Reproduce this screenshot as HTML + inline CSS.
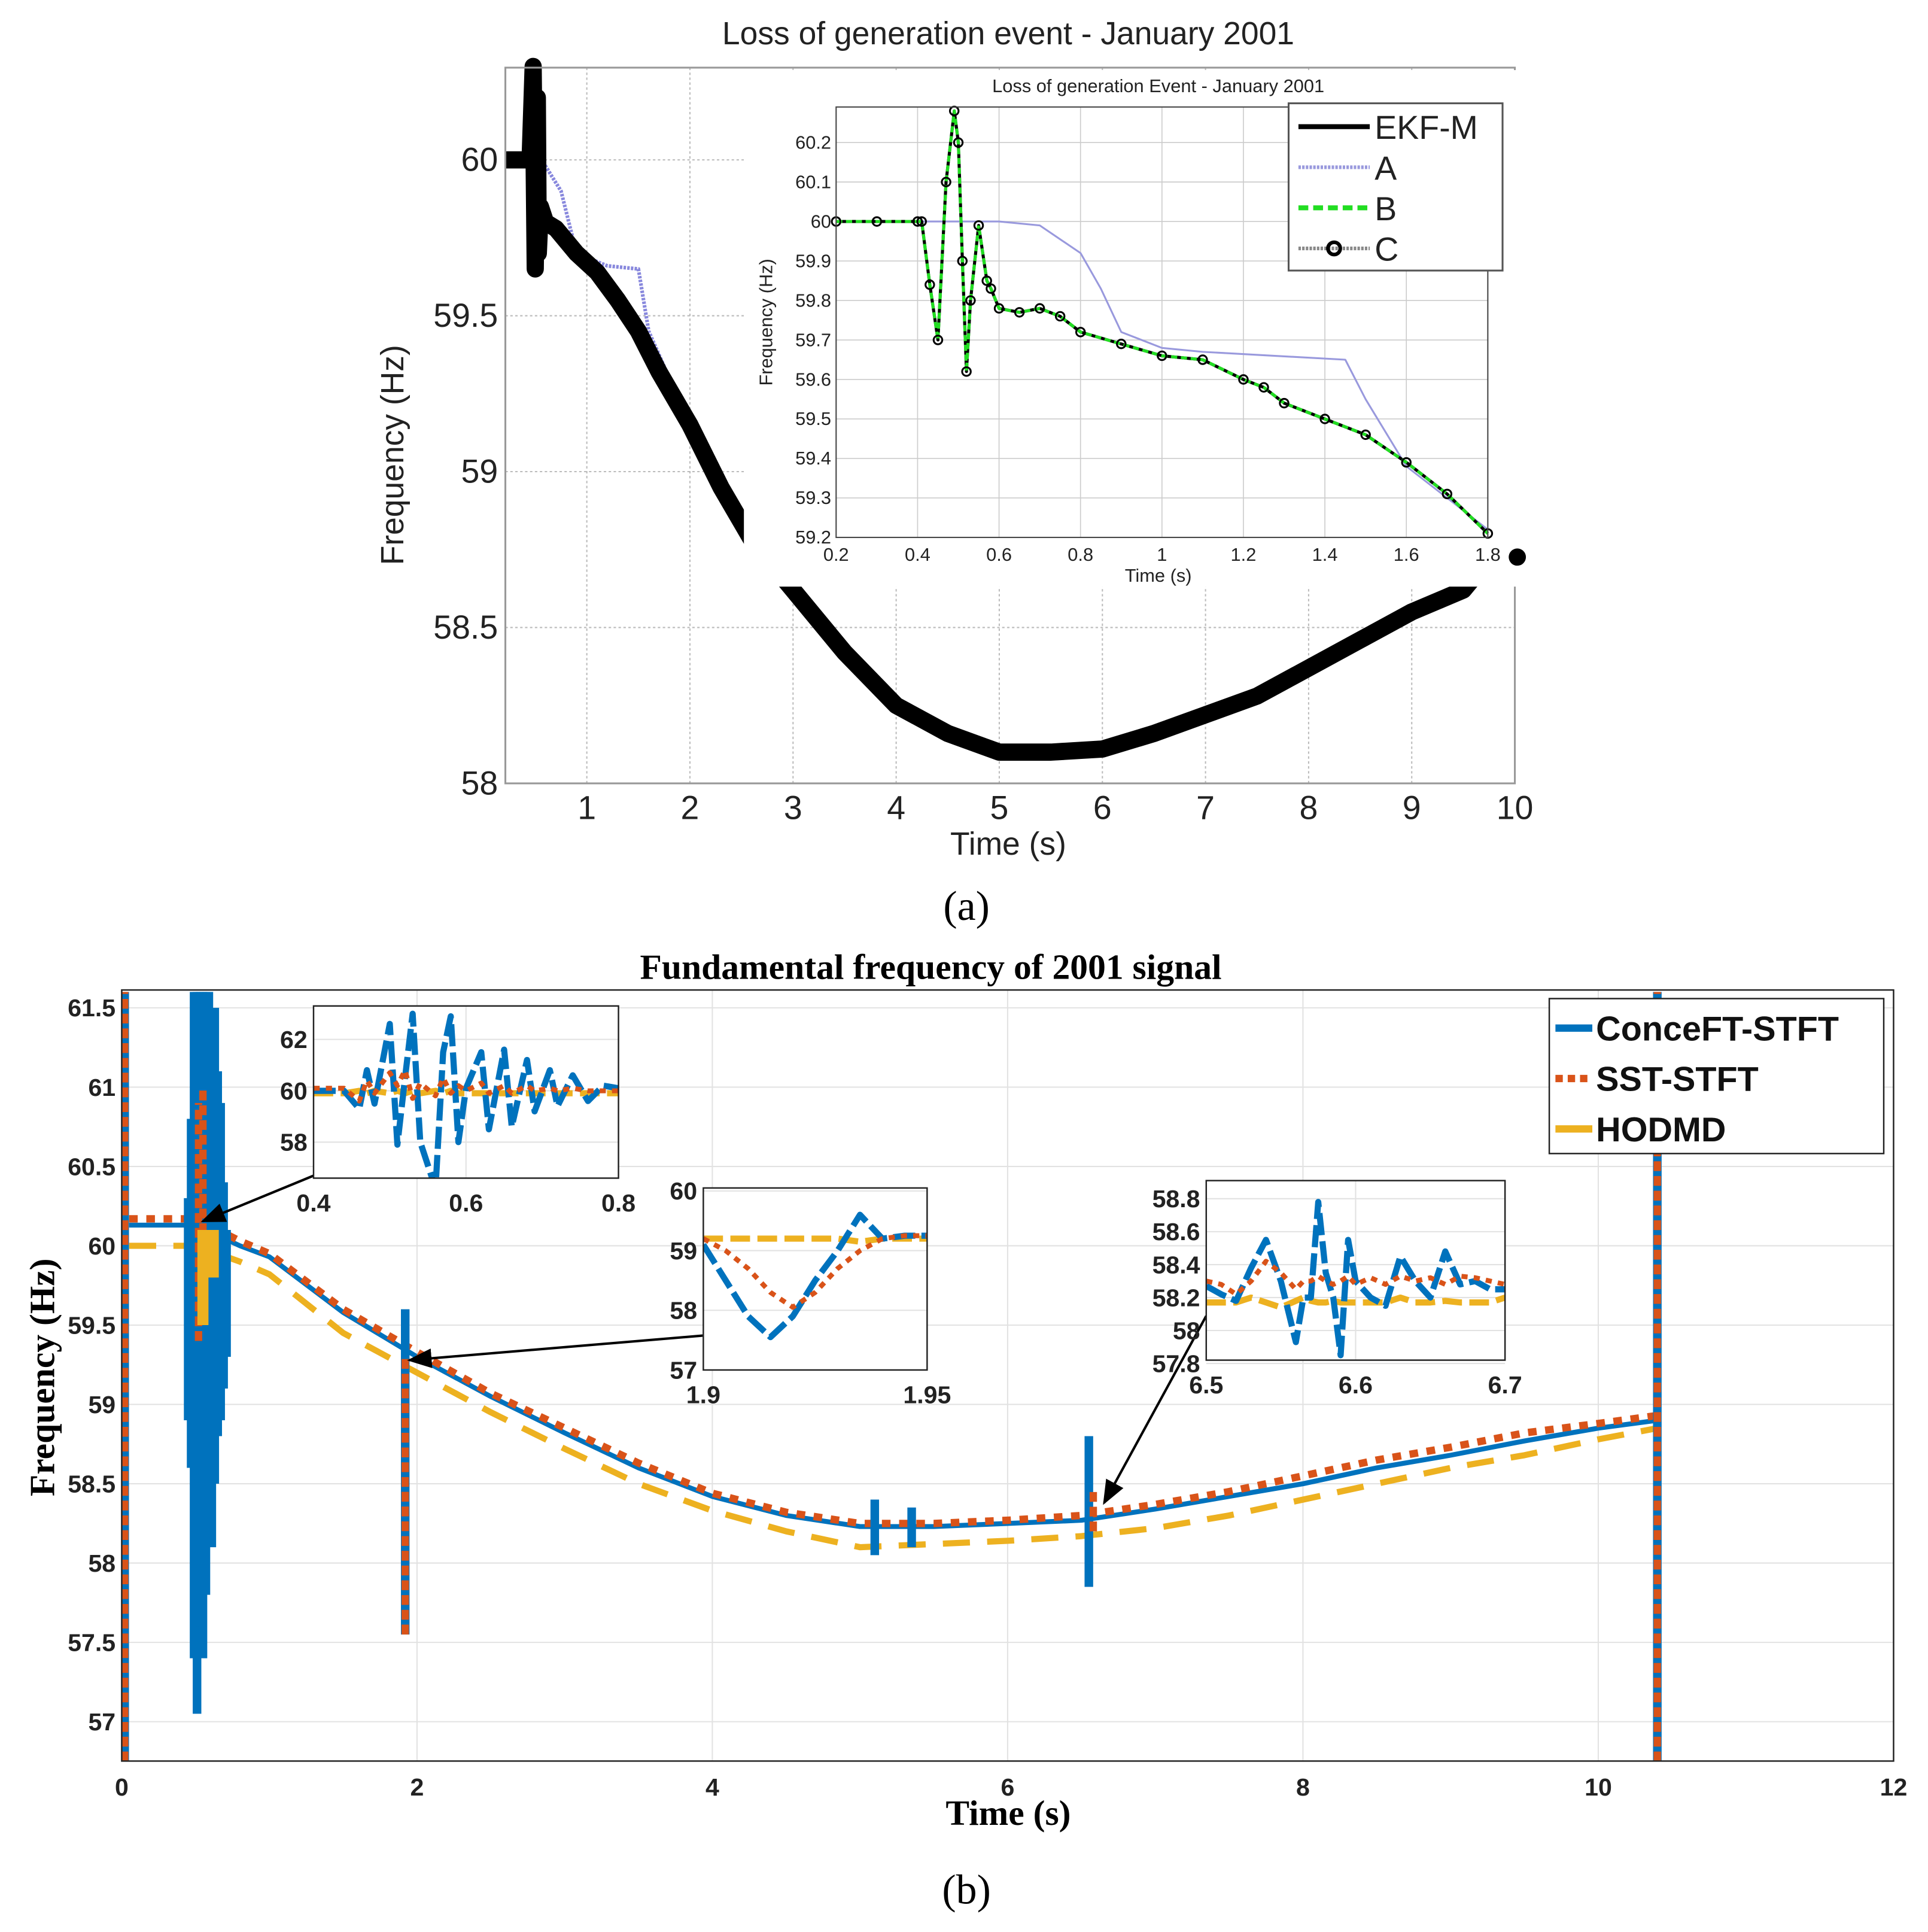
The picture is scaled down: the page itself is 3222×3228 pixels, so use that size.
<!DOCTYPE html>
<html><head><meta charset="utf-8"><style>
html,body{margin:0;padding:0;background:#fff;}
svg{display:block;}
.sans{font-family:"Liberation Sans",sans-serif;}
.serif{font-family:"Liberation Serif",serif;}
</style></head><body>
<svg id="fig" width="3222" height="3228" viewBox="0 0 1568 1571" preserveAspectRatio="none" xmlns="http://www.w3.org/2000/svg">
<rect width="1568" height="1571" fill="#fff"/>
<g id="top"></g>
<g id="bot"></g>
</svg>
<script>
// ===== Panel (a) data =====
const aMainT = [0.21,0.3,0.4,0.45,0.48,0.5,0.52,0.53,0.55,0.6,0.7,0.8,0.9,1.0,1.1,1.3,1.5,1.7,2.0,2.3,2.6,3.0,3.5,4.0,4.5,5.0,5.5,6.0,6.5,7.0,7.5,8.0,8.5,9.0,9.5,9.75];
const aMainF = [60,60,60,60,60.3,59.65,60.2,59.7,59.85,59.8,59.78,59.74,59.7,59.67,59.64,59.55,59.45,59.32,59.15,58.95,58.78,58.62,58.42,58.25,58.16,58.1,58.1,58.11,58.16,58.22,58.28,58.37,58.46,58.55,58.62,58.72];
const aAT = [0.21,0.45,0.6,0.75,0.9,1.2,1.5,1.6,1.8,2.0];
const aAF = [60,60,59.98,59.9,59.7,59.66,59.65,59.45,59.3,59.15];
const aXTicks = [1,2,3,4,5,6,7,8,9,10];
const aYTicks = [58,58.5,59,59.5,60];
// inset (a)
const iaT = [0.2,0.3,0.4,0.41,0.43,0.45,0.47,0.49,0.5,0.51,0.52,0.53,0.55,0.57,0.58,0.6,0.65,0.7,0.75,0.8,0.9,1.0,1.1,1.2,1.25,1.3,1.4,1.5,1.6,1.7,1.8];
const iaF = [60,60,60,60,59.84,59.7,60.1,60.28,60.2,59.9,59.62,59.8,59.99,59.85,59.83,59.78,59.77,59.78,59.76,59.72,59.69,59.66,59.65,59.6,59.58,59.54,59.5,59.46,59.39,59.31,59.21];
const iaAT = [0.2,0.4,0.5,0.6,0.7,0.8,0.85,0.9,1.0,1.1,1.45,1.5,1.6,1.7,1.8];
const iaAF = [60,60,60,60,59.99,59.92,59.83,59.72,59.68,59.67,59.65,59.55,59.38,59.3,59.22];
const iaXTicks = [0.2,0.4,0.6,0.8,1,1.2,1.4,1.6,1.8];
const iaYTicks = [59.2,59.3,59.4,59.5,59.6,59.7,59.8,59.9,60,60.1,60.2];
// ===== Panel (b) data =====
const bT = [0.05,0.5,0.8,1.0,1.5,2.0,2.5,3.0,3.5,4.0,4.5,5.0,5.5,6.0,6.5,7.0,7.5,8.0,8.5,9.0,9.5,10.0,10.4];
const bBlue = [60.13,60.13,60.0,59.93,59.58,59.3,59.05,58.82,58.6,58.42,58.3,58.23,58.23,58.25,58.27,58.34,58.42,58.5,58.6,58.68,58.77,58.85,58.9];
const bOrange = [60.17,60.17,60.03,59.95,59.6,59.33,59.07,58.85,58.63,58.44,58.32,58.25,58.25,58.27,58.3,58.37,58.45,58.55,58.65,58.73,58.82,58.88,58.93];
const bYellow = [60.0,60.0,59.9,59.82,59.45,59.2,58.95,58.72,58.5,58.33,58.2,58.1,58.12,58.14,58.17,58.22,58.3,58.4,58.5,58.6,58.68,58.78,58.85];
// spikes: time, low, high
const spBlueT = [0.02,0.45,0.47,0.49,0.51,0.53,0.55,0.57,0.59,0.61,0.63,0.65,0.67,0.69,0.71,1.92,5.1,5.35,6.55,10.4];
const spBlueLo = [56.75,58.9,58.6,57.4,57.05,57.6,57.4,57.8,58.2,58.1,58.5,58.8,58.9,59.1,59.3,57.55,58.05,58.1,57.85,56.75];
const spBlueHi = [61.6,60.3,60.8,61.6,61.6,61.6,61.6,61.6,61.6,61.3,61.5,61.1,60.9,60.4,60.1,59.6,58.4,58.35,58.8,61.6];
const spOrT = [0.02,0.52,0.55,1.92,6.58,10.4];
const spOrLo = [56.75,59.4,59.8,57.55,58.2,56.75];
const spOrHi = [61.6,60.9,61.0,59.3,58.45,61.6];
const spYeT = [0.55,0.62];
const spYeLo = [59.5,59.8];
const spYeHi = [60.1,60.1];
const bXTicks = [0,2,4,6,8,10,12];
const bYTicks = [57,57.5,58,58.5,59,59.5,60,60.5,61,61.5];
// inset b1
const b1T = [0.4,0.44,0.46,0.47,0.48,0.5,0.51,0.52,0.53,0.54,0.56,0.57,0.58,0.59,0.6,0.62,0.63,0.65,0.66,0.68,0.69,0.71,0.72,0.74,0.76,0.78,0.8];
const b1Blue = [60,60,59.3,60.8,59.5,62.6,57.9,60.5,63,58,56.2,61.5,62.9,58,60.1,61.5,58.5,61.6,58.6,61.2,59.2,60.8,59.4,60.6,59.6,60.2,60.1];
const b1Or = [60.1,60.1,59.6,60.4,59.9,60.7,60.2,60.8,59.7,60.3,59.8,60.5,59.9,60.2,60.0,60.3,59.9,60.2,59.9,60.2,60.0,60.1,60.0,60.1,60.0,60.0,60.0];
const b1Ye = [59.9,59.9,60,59.9,60,59.9,60,59.9,60,59.9,60,59.9,60,59.9,59.9,59.9,59.9,59.9,59.9,59.9,59.9,59.9,59.9,59.9,59.9,59.9,59.9];
// inset b2
const b2T = [1.9,1.905,1.91,1.915,1.92,1.925,1.93,1.935,1.94,1.945,1.95];
const b2Blue = [59.1,58.5,57.9,57.55,57.9,58.5,59.0,59.6,59.2,59.25,59.25];
const b2Or = [59.2,59.0,58.7,58.3,58.05,58.3,58.7,59.0,59.2,59.25,59.25];
const b2Ye = [59.2,59.2,59.2,59.2,59.2,59.2,59.2,59.15,59.2,59.2,59.2];
// inset b3
const b3T = [6.5,6.51,6.52,6.53,6.54,6.55,6.56,6.565,6.57,6.575,6.58,6.585,6.59,6.595,6.6,6.61,6.62,6.63,6.64,6.65,6.66,6.67,6.68,6.69,6.7];
const b3Blue = [58.27,58.22,58.18,58.38,58.55,58.3,57.93,58.2,58.2,58.78,58.35,58.2,57.85,58.55,58.3,58.2,58.15,58.45,58.3,58.2,58.48,58.28,58.3,58.25,58.25];
const b3Or = [58.3,58.28,58.22,58.3,58.42,58.35,58.25,58.3,58.3,58.33,58.3,58.28,58.3,58.33,58.28,58.32,58.28,58.33,58.3,58.32,58.28,58.33,58.32,58.3,58.28];
const b3Ye = [58.17,58.17,58.17,58.2,58.17,58.14,58.18,58.2,58.18,58.17,58.17,58.18,58.17,58.17,58.17,58.17,58.17,58.2,58.17,58.17,58.18,58.17,58.17,58.17,58.2];

const NS = 'http://www.w3.org/2000/svg';
function mk(parent, tag, attrs, text){
  const e = document.createElementNS(NS, tag);
  for (const k in attrs) e.setAttribute(k, attrs[k]);
  if (text !== undefined) e.textContent = text;
  parent.appendChild(e);
  return e;
}
function scale(d0,d1,p0,p1){ return v => p0 + (v-d0)/(d1-d0)*(p1-p0); }
function pathD(ts, fs, sx, sy){ return ts.map((t,i)=>(i?'L':'M')+sx(t).toFixed(1)+','+sy(fs[i]).toFixed(1)).join(''); }
function line(g, ts, fs, sx, sy, style, name){
  const p = mk(g,'path',Object.assign({d:pathD(ts,fs,sx,sy),fill:'none','stroke-linejoin':'round'},style));
  
  
  return p;
}

// ================= PANEL A =================
const A = document.getElementById('top');
const ax = scale(0.21,10,411,1232), ay = scale(58,60,637,130);
aXTicks.forEach(t=>{ mk(A,'line',{x1:ax(t),x2:ax(t),y1:55,y2:637,stroke:'#bbb','stroke-dasharray':'2,2','stroke-width':1});
  const tx = mk(A,'text',{x:ax(t),y:666,'text-anchor':'middle','font-size':27,class:'sans',fill:'#222'},String(t));
    });
aYTicks.forEach(v=>{ mk(A,'line',{x1:411,x2:1232,y1:ay(v),y2:ay(v),stroke:'#bbb','stroke-dasharray':'2,2','stroke-width':1});
  const tx = mk(A,'text',{x:405,y:ay(v)+9,'text-anchor':'end','font-size':27,class:'sans',fill:'#222'},String(v));
    });
line(A,aAT,aAF,ax,ay,{stroke:'#8888dd','stroke-width':3,'stroke-dasharray':'2,1'},'series-a-main');
line(A,aMainT,aMainF,ax,ay,{stroke:'#000','stroke-width':14},'series-ekf-m-main');
mk(A,'rect',{x:411,y:55,width:821,height:582,fill:'none',stroke:'#999','stroke-width':1.5});
let e;
e=mk(A,'text',{x:820,y:36,'text-anchor':'middle','font-size':26,class:'sans',fill:'#222'},'Loss of generation event - January 2001');
 
e=mk(A,'text',{x:820,y:695,'text-anchor':'middle','font-size':26,class:'sans',fill:'#222'},'Time (s)');
 
e=mk(A,'text',{x:328,y:370,'text-anchor':'middle','font-size':26,class:'sans',fill:'#222',transform:'rotate(-90 328 370)'},'Frequency (Hz)');
 
// inset a
const IA = mk(A,'g',{});  
mk(IA,'rect',{x:605,y:57,width:634,height:420,fill:'#fff'});
const iax = scale(0.2,1.8,680,1210), iay = scale(59.2,60.29,437,87);
iaXTicks.forEach(t=>{ mk(IA,'line',{x1:iax(t),x2:iax(t),y1:87,y2:437,stroke:'#ccc','stroke-width':0.8});
  const tx=mk(IA,'text',{x:iax(t),y:456,'text-anchor':'middle','font-size':15,class:'sans',fill:'#222'},String(t));
    });
iaYTicks.forEach(v=>{ mk(IA,'line',{x1:680,x2:1210,y1:iay(v),y2:iay(v),stroke:'#ccc','stroke-width':0.8});
  const tx=mk(IA,'text',{x:676,y:iay(v)+5,'text-anchor':'end','font-size':15,class:'sans',fill:'#222'},String(v));
    });
line(IA,iaAT,iaAF,iax,iay,{stroke:'#9999dd','stroke-width':1.5},'inset-series-a');
line(IA,iaT,iaF,iax,iay,{stroke:'#000','stroke-width':2.5},'inset-series-ekf-m');
line(IA,iaT,iaF,iax,iay,{stroke:'#22dd22','stroke-width':2.5,'stroke-dasharray':'5,3'},'inset-series-b');
iaT.forEach((t,i)=>{ const c=mk(IA,'circle',{cx:iax(t),cy:iay(iaF[i]),r:3.5,fill:'none',stroke:'#000','stroke-width':1.5});
    });
mk(IA,'rect',{x:680,y:87,width:530,height:350,fill:'none',stroke:'#444','stroke-width':1});
e=mk(IA,'text',{x:942,y:75,'text-anchor':'middle','font-size':15,class:'sans',fill:'#222'},'Loss of generation Event - January 2001');
 
e=mk(IA,'text',{x:942,y:473,'text-anchor':'middle','font-size':15,class:'sans',fill:'#222'},'Time (s)');
 
e=mk(IA,'text',{x:628,y:262,'text-anchor':'middle','font-size':15,class:'sans',fill:'#222',transform:'rotate(-90 628 262)'},'Frequency (Hz)');
 
mk(IA,'circle',{cx:1234,cy:453,r:7,fill:'#000'});
// legend a
const LA = mk(A,'g',{});  
mk(LA,'rect',{x:1048,y:84,width:174,height:136,fill:'#fff',stroke:'#555','stroke-width':1.5});
const la = [['EKF-M',{stroke:'#000','stroke-width':4}],['A',{stroke:'#9999dd','stroke-width':3,'stroke-dasharray':'2,1'}],['B',{stroke:'#22dd22','stroke-width':4,'stroke-dasharray':'8,4'}],['C',{stroke:'#888','stroke-width':3,'stroke-dasharray':'2,1'}]];
la.forEach((it,i)=>{ const y=103+i*33;
  const g=mk(LA,'g',{});  
  mk(g,'line',Object.assign({x1:1056,x2:1114,y1:y,y2:y},it[1]));
  if(i===3) mk(g,'circle',{cx:1085,cy:y,r:5,fill:'none',stroke:'#000','stroke-width':3});
  mk(g,'text',{x:1118,y:y+10,'font-size':27,class:'sans',fill:'#222'},it[0]); });
e=mk(A,'text',{x:786,y:748,'text-anchor':'middle','font-size':34,class:'serif',fill:'#000'},'(a)');
 

// ================= PANEL B =================
const B = document.getElementById('bot');
const bx = scale(0,12,99,1540), by = scale(57,60,1400,1013);
const BC = {blue:'#0072bd',or:'#d95319',ye:'#edb120'};
bXTicks.forEach(t=>{ mk(B,'line',{x1:bx(t),x2:bx(t),y1:805,y2:1432,stroke:'#e2e2e2','stroke-width':1});
  const tx=mk(B,'text',{x:bx(t),y:1460,'text-anchor':'middle','font-size':20,'font-weight':'bold',class:'sans',fill:'#222'},String(t));
    });
bYTicks.forEach(v=>{ mk(B,'line',{x1:99,x2:1540,y1:by(v),y2:by(v),stroke:'#e2e2e2','stroke-width':1});
  const tx=mk(B,'text',{x:94,y:by(v)+7,'text-anchor':'end','font-size':20,'font-weight':'bold',class:'sans',fill:'#222'},String(v));
    });
const clipB = mk(B,'clipPath',{id:'cb'}); mk(clipB,'rect',{x:99,y:805,width:1441,height:627});
const SB = mk(B,'g',{'clip-path':'url(#cb)'});  
line(SB,bT,bYellow,bx,by,{stroke:BC.ye,'stroke-width':5,'stroke-dasharray':'22,14'},'series-hodmd');
line(SB,bT,bBlue,bx,by,{stroke:BC.blue,'stroke-width':4},'series-conceft-stft');
line(SB,bT,bOrange,bx,by,{stroke:BC.or,'stroke-width':6,'stroke-dasharray':'7,7'},'series-sst-stft');
function spikes(ts,lo,hi,style,name){ ts.forEach((t,i)=>{ const l=mk(SB,'line',Object.assign({x1:bx(t),x2:bx(t),y1:by(lo[i]),y2:by(hi[i])},style));
    }); }
spikes(spBlueT,spBlueLo,spBlueHi,{stroke:BC.blue,'stroke-width':7},'spike-conceft');
spikes(spOrT,spOrLo,spOrHi,{stroke:BC.or,'stroke-width':6,'stroke-dasharray':'8,4'},'spike-sst');
spikes(spYeT,spYeLo,spYeHi,{stroke:BC.ye,'stroke-width':9},'spike-hodmd');
mk(B,'rect',{x:99,y:805,width:1441,height:627,fill:'none',stroke:'#222','stroke-width':1.2});
e=mk(B,'text',{x:757,y:796,'text-anchor':'middle','font-size':29,'font-weight':'bold',class:'serif',fill:'#000'},'Fundamental frequency of 2001 signal');
 
e=mk(B,'text',{x:820,y:1484,'text-anchor':'middle','font-size':29,'font-weight':'bold',class:'serif',fill:'#000'},'Time (s)');
 
e=mk(B,'text',{x:44,y:1120,'text-anchor':'middle','font-size':29,'font-weight':'bold',class:'serif',fill:'#000',transform:'rotate(-90 44 1120)'},'Frequency (Hz)');
 
// arrows
mk(B,'defs',{}).innerHTML='<marker id="ah" markerWidth="10" markerHeight="8" refX="9" refY="4" orient="auto"><path d="M0,0 L10,4 L0,8 Z" fill="#000"/></marker>';
[[255,956,165,993],[572,1086,333,1106],[981,1070,898,1222]].forEach(a=>{ const l=mk(B,'line',{x1:a[0],y1:a[1],x2:a[2],y2:a[3],stroke:'#000','stroke-width':2,'marker-end':'url(#ah)'});
    });
function inset(name,x0,x1,y0,y1,dx0,dx1,dy0,dy1,xt,yt,ts,bl,orr,ye,fs,bw){
  const g=mk(B,'g',{});  
  mk(g,'rect',{x:x0,y:y0,width:x1-x0,height:y1-y0,fill:'#fff'});
  const sx=scale(dx0,dx1,x0,x1), sy=scale(dy0,dy1,y1,y0);
  const id='c'+name; const cp=mk(g,'clipPath',{id:id}); mk(cp,'rect',{x:x0,y:y0,width:x1-x0,height:y1-y0});
  xt.forEach(t=>{ mk(g,'line',{x1:sx(t),x2:sx(t),y1:y0,y2:y1,stroke:'#e2e2e2'});
    const tx=mk(g,'text',{x:sx(t),y:y1+27,'text-anchor':'middle','font-size':fs,'font-weight':'bold',class:'sans',fill:'#222'},String(t));
      });
  yt.forEach(v=>{ mk(g,'line',{x1:x0,x2:x1,y1:sy(v),y2:sy(v),stroke:'#e2e2e2'});
    const tx=mk(g,'text',{x:x0-5,y:sy(v)+7,'text-anchor':'end','font-size':fs,'font-weight':'bold',class:'sans',fill:'#222'},String(v));
      });
  const s=mk(g,'g',{'clip-path':'url(#'+id+')'});
  line(s,ts,ye,sx,sy,{stroke:BC.ye,'stroke-width':5,'stroke-dasharray':'16,6'},'inset-hodmd');
  line(s,ts,bl,sx,sy,{stroke:BC.blue,'stroke-width':bw,'stroke-dasharray':'18,5'},'inset-conceft');
  line(s,ts,orr,sx,sy,{stroke:BC.or,'stroke-width':4,'stroke-dasharray':'5,5'},'inset-sst');
  mk(g,'rect',{x:x0,y:y0,width:x1-x0,height:y1-y0,fill:'none',stroke:'#222','stroke-width':1.2});
}
inset('inset-b1',255,503,818,958,0.4,0.8,56.6,63.3,[0.4,0.6,0.8],[58,60,62],b1T,b1Blue,b1Or,b1Ye,20,5);
inset('inset-b2',572,754,966,1114,1.9,1.95,57,60.05,[1.9,1.95],[57,58,59,60],b2T,b2Blue,b2Or,b2Ye,20,5);
inset('inset-b3',981,1224,960,1106,6.5,6.7,57.82,58.91,[6.5,6.6,6.7],[57.8,58,58.2,58.4,58.6,58.8],b3T,b3Blue,b3Or,b3Ye,20,5);
// legend b
const LB = mk(B,'g',{});  
mk(LB,'rect',{x:1260,y:812,width:272,height:126,fill:'#fff',stroke:'#222','stroke-width':1.2});
[['ConceFT-STFT',{stroke:BC.blue,'stroke-width':6}],['SST-STFT',{stroke:BC.or,'stroke-width':6,'stroke-dasharray':'6,4'}],['HODMD',{stroke:BC.ye,'stroke-width':6}]].forEach((it,i)=>{
  const y=836+i*41; const g=mk(LB,'g',{});  
  mk(g,'line',Object.assign({x1:1265,x2:1295,y1:y,y2:y},it[1]));
  mk(g,'text',{x:1298,y:y+10,'font-size':28,'font-weight':'bold',class:'sans',fill:'#111'},it[0]); });
e=mk(B,'text',{x:786,y:1548,'text-anchor':'middle','font-size':34,class:'serif',fill:'#000'},'(b)');
 
</script>
</body></html>
